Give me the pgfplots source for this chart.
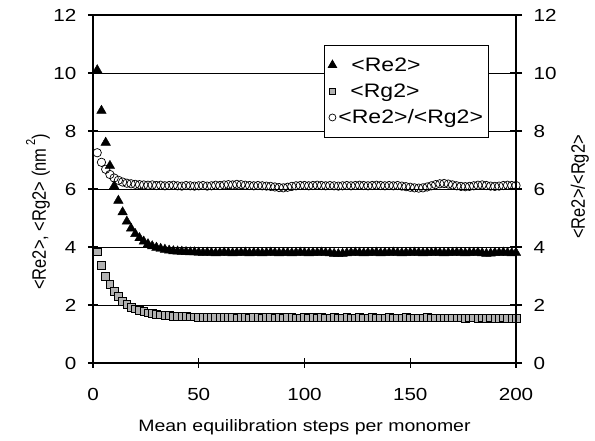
\documentclass[border=0pt]{standalone}
\usepackage{fontspec}
\setmainfont{Liberation Sans}[FakeStretch=1.18]
\newfontfamily\yfont{Liberation Sans}
\usepackage{graphicx}
\usepackage{pgfplots}
\usepackage{pgfplotstable}
\pgfplotsset{compat=1.18}

\pgfplotstableread{
x re rg ra
2 10.10 3.83 7.25
4 8.70 3.38 6.92
6 7.60 2.98 6.68
8 6.80 2.72 6.50
10 6.10 2.48 6.38
12 5.60 2.29 6.30
14 5.20 2.12 6.24
16 4.88 2.01 6.20
18 4.64 1.93 6.18
20 4.45 1.87 6.16
22 4.31 1.81 6.15
24 4.19 1.77 6.14
26 4.10 1.73 6.13
28 4.03 1.70 6.14
30 3.98 1.68 6.12
32 3.94 1.66 6.13
34 3.91 1.64 6.11
36 3.88 1.63 6.12
38 3.86 1.62 6.13
40 3.85 1.61 6.11
42 3.84 1.60 6.10
44 3.83 1.60 6.12
46 3.82 1.59 6.11
48 3.82 1.59 6.10
50 3.81 1.58 6.11
52 3.80 1.58 6.12
54 3.81 1.58 6.10
56 3.80 1.57 6.11
58 3.79 1.58 6.13
60 3.80 1.57 6.12
62 3.81 1.57 6.14
64 3.80 1.58 6.15
66 3.79 1.57 6.14
68 3.80 1.56 6.16
70 3.80 1.57 6.15
72 3.81 1.57 6.13
74 3.79 1.56 6.12
76 3.80 1.57 6.11
78 3.80 1.57 6.12
80 3.79 1.56 6.11
82 3.80 1.57 6.10
84 3.81 1.57 6.09
86 3.80 1.56 6.07
88 3.79 1.57 6.05
90 3.80 1.56 6.04
92 3.80 1.57 6.06
94 3.79 1.57 6.09
96 3.80 1.56 6.11
98 3.81 1.56 6.12
100 3.80 1.57 6.12
102 3.79 1.56 6.11
104 3.80 1.57 6.12
106 3.80 1.56 6.13
108 3.81 1.57 6.12
110 3.80 1.56 6.11
112 3.79 1.56 6.12
114 3.77 1.57 6.11
116 3.76 1.56 6.10
118 3.77 1.56 6.11
120 3.79 1.57 6.12
122 3.80 1.56 6.11
124 3.81 1.56 6.12
126 3.80 1.57 6.13
128 3.79 1.56 6.12
130 3.80 1.56 6.11
132 3.80 1.57 6.12
134 3.81 1.56 6.13
136 3.79 1.56 6.12
138 3.80 1.56 6.11
140 3.80 1.57 6.12
142 3.81 1.56 6.11
144 3.80 1.56 6.12
146 3.79 1.56 6.10
148 3.80 1.57 6.08
150 3.80 1.56 6.06
152 3.81 1.56 6.04
154 3.80 1.56 6.03
156 3.79 1.56 6.04
158 3.80 1.57 6.07
160 3.80 1.56 6.11
162 3.81 1.56 6.15
164 3.80 1.56 6.18
166 3.79 1.56 6.19
168 3.80 1.56 6.17
170 3.80 1.56 6.14
172 3.81 1.56 6.11
174 3.80 1.56 6.09
176 3.79 1.55 6.08
178 3.80 1.56 6.09
180 3.80 1.56 6.11
182 3.81 1.55 6.13
184 3.79 1.56 6.14
186 3.77 1.55 6.12
188 3.78 1.56 6.10
190 3.80 1.55 6.09
192 3.80 1.55 6.10
194 3.81 1.56 6.12
196 3.80 1.55 6.13
198 3.79 1.55 6.12
200 3.80 1.55 6.12
}\datatable

\begin{document}
\begin{tikzpicture}
\begin{axis}[
  at={(0,0)}, anchor=origin,
  width=423pt, height=348pt, scale only axis,
  xmin=0, xmax=200, ymin=0, ymax=12,
  xtick={0,50,...,200}, ytick={0,2,...,12},
  xtick pos=bottom, ytick pos=left,
  tick align=center,
  major tick length=10pt,
  ymajorgrids,
  grid style={black, line width=0.8pt},
  axis line style={black, line width=1.3pt},
  tick style={black, line width=1.1pt},
  /pgf/number format/assume math mode=true,
  ticklabel style={font=\fontsize{17.5}{20}\selectfont},
  xticklabel style={yshift=-17pt},
  yticklabel style={xshift=-8pt},
  xlabel={Mean equilibration steps per monomer},
  xlabel style={at={(axis description cs:0.5,-0.184)}, anchor=center,
    font=\fontsize{16.5}{19}\selectfont},
  ylabel={\scalebox{1}[1.18]{\yfont <Re2>, <Rg2> (nm\,\raisebox{0.55em}{\fontsize{11}{12}\selectfont 2})}},
  ylabel style={at={(axis description cs:-0.13,0.434)}, anchor=center, rotate=0,
    font=\fontsize{16.5}{19}\selectfont},
  legend style={at={(0.546,0.914)}, anchor=north west, draw=black, line width=1pt,
    fill=white, font=\fontsize{19.5}{23}\selectfont, row sep=7pt,
    inner xsep=4pt, inner ysep=10pt},
  legend cell align=left,
  legend image code/.code={\draw[mark repeat=2,mark phase=2,#1] plot coordinates {(0pt,0pt) (5pt,0pt) (10pt,0pt)};},
  clip=false,
]
\addplot[only marks, mark=triangle*, mark size=5.5pt, mark options={fill=black, draw=black},
  legend image post style={mark size=4.6pt}] table[x=x, y=re] {\datatable};
\addlegendentry{\hspace{13pt}<Re2>}
\addplot[only marks, mark=square*, mark size=3.9pt, mark options={fill=black!30, draw=black, line width=0.7pt},
  legend image post style={mark size=3pt}] table[x=x, y=rg] {\datatable};
\addlegendentry{\hspace{12pt}<Rg2>}
\addplot[only marks, mark=o, mark size=4.2pt, mark options={fill=white, draw=black, line width=0.7pt},
  legend image post style={mark size=3.5pt}] table[x=x, y=ra] {\datatable};
\addlegendentry{<Re2>/<Rg2>}
\end{axis}
\begin{axis}[
  at={(0,0)}, anchor=origin,
  width=423pt, height=348pt, scale only axis,
  xmin=0, xmax=200, ymin=0, ymax=12,
  axis x line=none, axis y line*=right,
  ytick={0,2,...,12},
  tick align=center,
  major tick length=12pt,
  axis line style={black, line width=1.3pt},
  tick style={black, line width=1.1pt},
  /pgf/number format/assume math mode=true,
  ticklabel style={font=\fontsize{17.5}{20}\selectfont},
  yticklabel style={xshift=8pt},
  ylabel={\scalebox{1}[1.18]{\yfont <Re2>/<Rg2>}},
  ylabel style={at={(axis description cs:1.151,0.506)}, anchor=center, rotate=0,
    font=\fontsize{16.5}{19}\selectfont},
]
\end{axis}
\pgfresetboundingbox
\useasboundingbox (-93pt,-78pt) rectangle (502pt,363pt);
\end{tikzpicture}
\end{document}
